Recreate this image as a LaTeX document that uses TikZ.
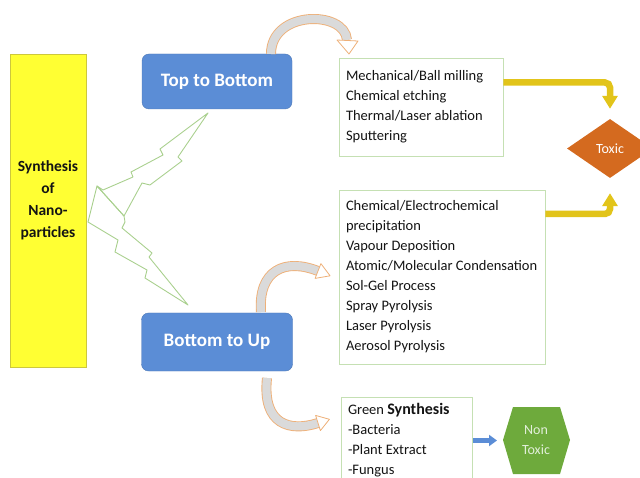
\documentclass[tikz,border=0pt]{standalone}
\usepackage{fontspec}
\setmainfont{Carlito}
\usetikzlibrary{arrows.meta,shapes.geometric}
\definecolor{blueBox}{RGB}{91,141,214}
\definecolor{yellowRect}{RGB}{255,255,51}
\definecolor{yellowEdge}{RGB}{205,200,60}
\definecolor{boltGreen}{RGB}{169,208,142}
\definecolor{boxEdge}{RGB}{197,224,179}
\definecolor{yArrow}{RGB}{226,196,26}
\definecolor{toxicC}{RGB}{212,106,31}
\definecolor{nonToxicC}{RGB}{110,170,60}
\definecolor{nonToxicT}{RGB}{226,239,218}
\definecolor{curveO}{RGB}{238,176,120}
\definecolor{curveF}{RGB}{218,218,218}
\definecolor{txt}{RGB}{20,20,20}
\begin{document}
\begin{tikzpicture}[x=1pt,y=-1pt,
  bluebox/.style={rectangle, rounded corners=7pt, fill=blueBox, draw=blueBox!85!black, line width=0.4pt,
    text=white, font=\fontsize{19}{22}\selectfont\bfseries, minimum width=150pt, inner sep=0pt},
  listbox/.style={rectangle, draw=boxEdge, line width=0.8pt, fill=white, align=flush left, text=txt,
    inner xsep=7pt, inner ysep=0pt, font=\fontsize{14.5}{20}\selectfont},
  bolt/.style={draw=boltGreen, line width=0.9pt, line join=round},
  yarr/.style={draw=yArrow, line width=6.5pt, rounded corners=5pt, -{Triangle[width=15pt,length=13pt]}},
  barr/.style={draw=blueBox, line width=4.5pt, -{Triangle[width=11pt,length=8pt]}},
  cband/.style={draw=curveO, line width=10pt},
  cfill/.style={draw=curveF, line width=8.2pt},
  chead/.style={fill=white, draw=curveO, line width=0.8pt, line join=round}
]
\useasboundingbox (0,0) rectangle (640,478);

% yellow column
\node[rectangle, fill=yellowRect, draw=yellowEdge, line width=0.6pt, minimum width=76pt, minimum height=313pt, inner sep=0pt] (syn) at (48,210.5) {};
\node[align=center, text=txt, font=\fontsize{15.5}{22}\selectfont\bfseries] (syntxt) at (48,200) {Synthesis\\of\\Nano-\\particles};

% lightning bolts
\draw[bolt] (208,113) -- (160,149) -- (163,155) -- (131,172) -- (133,177) -- (103,190) -- (97,186)
  -- (124,216) -- (142,183) -- (150,185) -- (182,161) -- (178,157) -- cycle;
\draw[bolt] (97,186) -- (88,222) -- (118,240) -- (115,252) -- (147,270) -- (145,278) -- (188,305)
  -- (149,257) -- (152,253) -- (122,228) -- (125,222) -- (124,216) -- cycle;

% blue boxes
\node[bluebox, minimum height=55pt] (tb) at (217,81.5) {Top to Bottom};
\node[bluebox, minimum height=58pt, minimum width=151pt] (bu) at (217,342) {Bottom to Up};

% list boxes
\node[listbox, text width=150pt, minimum height=98pt] (m1) at (421,107)
  {Mechanical/Ball milling\\Chemical etching\\Thermal/Laser ablation\\Sputtering};
\node[listbox, text width=192pt, minimum height=174pt] (m2) at (442,277)
  {Chemical/Electrochemical\\precipitation\\Vapour Deposition\\Atomic/Molecular Condensation\\Sol-Gel Process\\Spray Pyrolysis\\Laser Pyrolysis\\Aerosol Pyrolysis};
\node[listbox, text width=117pt, minimum height=87pt] (g) at (406.5,440.5)
  {Green {\bfseries\fontsize{16}{20}\selectfont Synthesis}\\-Bacteria\\-Plant Extract\\-Fungus};

% toxic diamond
\node[diamond, fill=toxicC, minimum width=86pt, minimum height=59pt, inner sep=0pt, aspect=1.46,
  text=white, font=\fontsize{14}{16}\selectfont] (toxic) at (610,148.5) {Toxic};

% non toxic hexagon
\fill[nonToxicC] (503,440) -- (513,407) -- (560,407) -- (570,440) -- (560,474) -- (513,474) -- cycle;
\coordinate (hexl) at (497,440);
\node[align=center, text=nonToxicT, font=\fontsize{14}{20}\selectfont] (nt) at (536,440) {Non\\Toxic};

% yellow arrows
\draw[yarr, shorten >=10pt] ([yshift=24.5pt]m1.east) -| (toxic.north);
\draw[yarr, shorten >=15pt] ([yshift=63pt]m2.east) -| (toxic.south);

% blue arrow
\draw[barr] ([xshift=1pt]g.east) -- (g.east -| hexl);

% curved block arrows
\coordinate (c1s) at (271,54);
\coordinate (c1e) at (347,40);
\draw[cband] (c1s) .. controls (271,10) and (345,10) .. (c1e);
\draw[cfill] (c1s) .. controls (271,10) and (345,10) .. (c1e);
\draw[chead] (337,40) -- (349,54) -- (358,41) -- cycle;

\coordinate (c2s) at (261,312);
\coordinate (c2e) at (318,271);
\draw[cband] (c2s) .. controls (258,270) and (285,258) .. (c2e);
\draw[cfill] (c2s) .. controls (258,270) and (285,258) .. (c2e);
\draw[chead] (320.9,263.6) -- (330.1,275.8) -- (315.1,278.4) -- cycle;

\coordinate (c3s) at (267,378);
\coordinate (c3e) at (318,423);
\draw[cband] (c3s) .. controls (262,425) and (290,432) .. (c3e);
\draw[cfill] (c3s) .. controls (262,425) and (290,432) .. (c3e);
\draw[chead] (315.6,415.4) -- (329.4,419.3) -- (320.4,430.6) -- cycle;
\end{tikzpicture}
\end{document}
